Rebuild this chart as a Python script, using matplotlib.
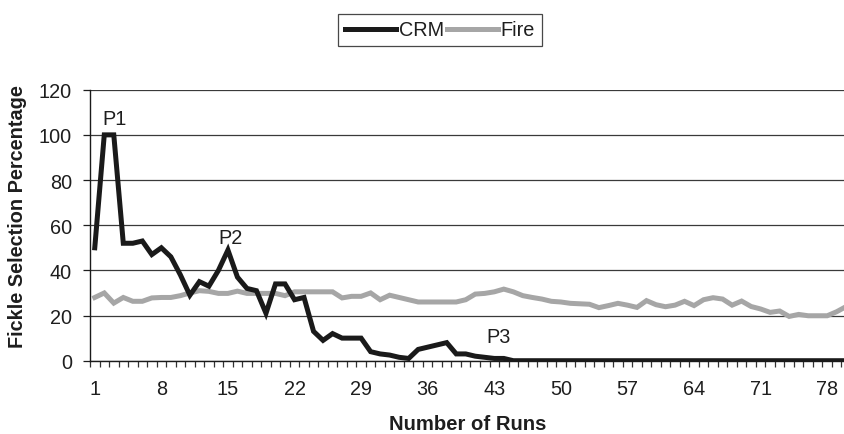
import matplotlib
matplotlib.use("Agg")
import matplotlib.pyplot as plt
import numpy as np

plt.rcParams['font.family'] = ['Liberation Sans', 'DejaVu Sans']

runs = list(range(1, 81))
crm = [50, 100, 100, 52, 52, 53, 47, 50, 46, 38,
       29, 35, 33, 40, 49, 37, 32, 31, 21, 34,
       34, 27, 28, 13, 9, 12, 10, 10, 10, 4,
       3, 2.5, 1.5, 1, 5, 6, 7, 8, 3, 3,
       2, 1.5, 1, 1, 0] + [0] * 35
fire = [28, 30, 25.5, 28, 26.3, 26.3, 27.8, 28, 28, 28.8,
        30, 31, 30.7, 29.8, 29.8, 30.8, 29.8, 29.8, 29.8, 29.8,
        28.8, 30.5, 30.5, 30.5, 30.5, 30.5, 27.8, 28.5, 28.5, 30,
        27, 29, 28, 27, 26, 26, 26, 26, 26, 27,
        29.5, 29.8, 30.5, 31.7, 30.5, 28.8, 28, 27.3, 26.3, 26,
        25.4, 25.2, 25, 23.5, 24.4, 25.4, 24.6, 23.6, 26.6, 24.8,
        23.9, 24.6, 26.3, 24.4, 27, 27.9, 27.3, 24.6, 26.4, 24,
        22.9, 21.4, 22, 19.6, 20.5, 19.9, 19.9, 19.9, 21.7, 24]
xtick_labels = [1, 8, 15, 22, 29, 36, 43, 50, 57, 64, 71, 78]
ytick_values = [0, 20, 40, 60, 80, 100, 120]
annotations = [("P1", 3.08, 104.9), ("P2", 15.3, 52.2), ("P3", 43.5, 8.4)]

W, H = 845, 435
fig = plt.figure(figsize=(W / 100, H / 100), dpi=100)
left, right, bottom, top = 90, 851, 361.7, 90.7
ax = fig.add_axes([left / W, 1 - bottom / H, (right - left) / W, (bottom - top) / H])

TXT = '#1e1e1e'
FS = 14.3

ax.plot(runs, fire, color='#a6a6a6', lw=3.6, solid_joinstyle='miter', label='Fire', zorder=3)
ax.plot(runs, crm, color='#1a1a1a', lw=3.6, solid_joinstyle='miter', label='CRM', zorder=4)

ax.set_xlim(0.5, 80.5)
ax.set_ylim(0, 120)
ax.set_yticks(ytick_values)
ax.yaxis.grid(True, color='#3a3a3a', lw=0.9)
ax.set_axisbelow(True)
ax.set_xticks(xtick_labels)
ax.set_xticklabels([str(v) for v in xtick_labels])
ax.set_xticks(np.arange(0.5, 81, 1), minor=True)
ax.tick_params(axis='x', which='major', length=0, pad=13.5, labelsize=FS, colors=TXT)
ax.tick_params(axis='x', which='minor', length=4, width=0.9, direction='out', color='#333333')
ax.tick_params(axis='y', which='major', length=5, width=0.9, pad=8, labelsize=FS, colors=TXT)
for s in ['top', 'right']:
    ax.spines[s].set_visible(False)
for s in ['left', 'bottom']:
    ax.spines[s].set_color('#1a1a1a')
    ax.spines[s].set_linewidth(1.0)

for txt, x, y in annotations:
    ax.text(x, y, txt, ha='center', va='baseline', fontsize=FS, color=TXT)

fig.text(468 / W, 1 - 430 / H, 'Number of Runs', ha='center', va='baseline',
         fontsize=14.6, fontweight='bold', color=TXT)
fig.text(18 / W, 1 - 216.5 / H, 'Fickle Selection Percentage', rotation=90, ha='center', va='center',
         fontsize=14.3, fontweight='bold', color=TXT)

h1, l1 = ax.get_legend_handles_labels()
leg = fig.legend([h1[1], h1[0]], [l1[1], l1[0]], loc='center', bbox_to_anchor=(440 / W, 1 - 31 / H),
                 ncol=2, frameon=True, fancybox=False, edgecolor='#1a1a1a', fontsize=FS,
                 handlelength=2.55, handletextpad=0.15, columnspacing=0.15, borderpad=0.35,
                 borderaxespad=0)
leg.get_frame().set_linewidth(0.9)
for t in leg.get_texts():
    t.set_color(TXT)

fig.savefig('out.png', dpi=100)
